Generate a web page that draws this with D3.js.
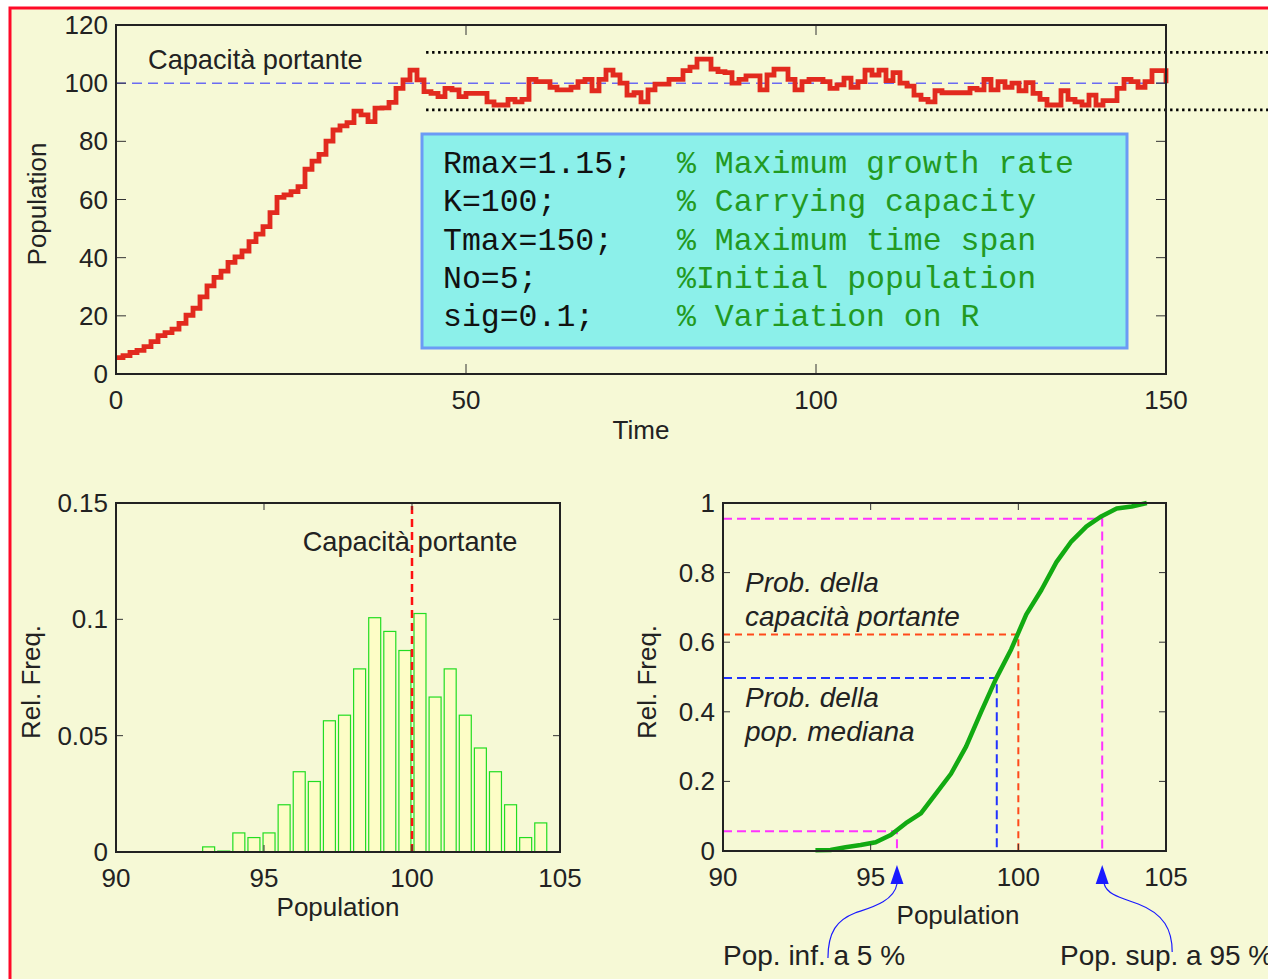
<!DOCTYPE html>
<html><head><meta charset="utf-8">
<script src="https://cdn.jsdelivr.net/npm/d3@7"></script>
<style>
body{margin:0;background:#fff;}
svg{display:block;}
text{font-family:"Liberation Sans",Arial,sans-serif;fill:#222;}
</style></head><body>
<svg id="c" width="1268" height="979"></svg>
<script>
// ---------- DATA ----------
// Population time series (t = 0..150, one value per time step)
const population = [
 5.6,6.3,7.4,8.1,9.4,11.1,13.2,14.2,15.4,17.4,
 20.2,22.6,26.5,30.3,33.2,35.4,38.4,40.3,42.3,45.5,
 48.1,50.7,55.5,60.7,61.6,62.7,64.4,70.4,73.2,75.5,
 80.1,83.9,85.3,86.4,90.4,89.1,86.8,91.4,91.5,93.4,
 98.2,101.1,104.5,101.1,97.1,96.5,95.4,98.2,97.7,95.4,
 96.5,96.5,96.5,93.6,92.5,92.5,94.4,93.6,94.4,101.3,
 100.5,100.5,98.6,97.7,97.7,98.6,100.5,101.3,97.4,101.3,
 104.5,102.8,100.0,95.9,96.7,93.6,97.7,99.7,99.7,101.3,
 101.3,104.3,105.5,108.3,108.3,104.8,104.0,103.6,100.0,101.3,
 102.5,102.5,97.7,102.8,104.8,104.8,101.3,97.7,100.5,101.3,
 101.3,100.5,98.2,99.4,101.7,98.6,100.5,104.5,102.8,104.5,
 100.9,103.6,100.0,99.0,95.9,94.4,93.6,97.4,96.7,96.7,
 96.7,96.7,98.2,97.7,101.3,97.7,100.5,98.6,100.0,97.4,
 100.2,96.5,94.4,92.5,92.5,97.4,94.4,93.6,92.5,95.9,
 92.5,94.0,94.0,98.2,101.3,100.5,98.6,100.5,104.3,104.3,
 100.0];
const carryingCapacity = 100;
const bandUpper = 110.6, bandLower = 90.8;
const bandStart = 44.3, bandEnd = 164.6;
const timeTicks = [0,50,100,150];
const popTicks = [0,20,40,60,80,100,120];

// Histogram of population (relative frequency)
const binCenters = [93.13,93.64,94.15,94.66,95.17,95.68,96.19,96.70,97.21,97.72,98.23,98.74,
                    99.25,99.76,100.27,100.78,101.29,101.80,102.31,102.82,103.33,103.84,104.35];
const relFreq = [0.0022,0.0004,0.0082,0.0062,0.0082,0.0203,0.0345,0.0303,0.0564,0.0588,0.0787,0.1007,
                 0.0948,0.0866,0.1025,0.0666,0.0787,0.0588,0.0447,0.0345,0.0203,0.0062,0.0125];
const histXTicks = [90,95,100,105];
const histYTicks = [0,0.05,0.1,0.15];
const histYLabels = ["0","0.05","0.1","0.15"];

// Cumulative distribution
const cdfValues = [0.002,0.003,0.011,0.017,0.025,0.046,0.080,0.108,0.165,0.222,0.300,0.400,
                   0.496,0.580,0.680,0.750,0.830,0.890,0.933,0.962,0.984,0.990,1.000];
const cdfYTicks = [0,0.2,0.4,0.6,0.8,1];
const cdfYLabels = ["0","0.2","0.4","0.6","0.8","1"];
const pop5 = 95.89, prob5 = 0.057;
const pop95 = 102.84, prob95 = 0.955;
const popMedian = 99.27, probMedian = 0.497;
const probK = 0.622;

const infoLines = [
 ["Rmax=1.15;", "% Maximum growth rate"],
 ["K=100;", "% Carrying capacity"],
 ["Tmax=150;", "% Maximum time span"],
 ["No=5;", "%Initial population"],
 ["sig=0.1;", "% Variation on R"]];

// ---------- DRAW ----------
const svg = d3.select("#c");
const BG = "#f6f9d6";
svg.append("rect").attr("x",10).attr("y",8).attr("width",1300).attr("height",1000)
  .attr("fill",BG).attr("stroke","#ff0a28").attr("stroke-width",3);

const FS = 26;
function frame(g, x, y, xt, yt, ylabels, tick){
  const [x0,x1] = x.range(), [y0,y1] = y.range();
  xt.forEach(v=>{
    g.append("line").attr("x1",x(v)).attr("x2",x(v)).attr("y1",y0).attr("y2",y0-tick).attr("stroke","#333");
    g.append("line").attr("x1",x(v)).attr("x2",x(v)).attr("y1",y1).attr("y2",y1+tick).attr("stroke","#333");
    g.append("text").attr("x",x(v)).attr("y",y0+35).attr("text-anchor","middle").attr("font-size",FS).text(v);
  });
  yt.forEach((v,i)=>{
    g.append("line").attr("x1",x0).attr("x2",x0+tick).attr("y1",y(v)).attr("y2",y(v)).attr("stroke","#333");
    g.append("line").attr("x1",x1).attr("x2",x1-tick).attr("y1",y(v)).attr("y2",y(v)).attr("stroke","#333");
    g.append("text").attr("x",x0-8).attr("y",y(v)+9).attr("text-anchor","end").attr("font-size",FS)
      .text(ylabels? ylabels[i] : v);
  });
  g.append("rect").attr("x",x0).attr("y",y1).attr("width",x1-x0).attr("height",y0-y1)
    .attr("fill","none").attr("stroke","#222").attr("stroke-width",2);
}

// ===== Top chart =====
const xT = d3.scaleLinear([0,150],[116,1166]);
const yT = d3.scaleLinear([0,120],[374,25]);
const gT = svg.append("g");
[bandUpper,bandLower].forEach(v=>{
  gT.append("line").attr("x1",xT(bandStart)).attr("x2",xT(bandEnd)).attr("y1",yT(v)).attr("y2",yT(v))
    .attr("stroke","#000").attr("stroke-width",2.6).attr("stroke-dasharray","2.4,3.6");
});
gT.append("line").attr("x1",xT(0)).attr("x2",xT(150)).attr("y1",yT(carryingCapacity)).attr("y2",yT(carryingCapacity))
  .attr("stroke","#6b6cf2").attr("stroke-width",1.5).attr("stroke-dasharray","10,6");
const line = d3.line().x((d,i)=>xT(i)).y(d=>yT(d)).curve(d3.curveStepAfter);
gT.append("path").attr("d",line(population)).attr("fill","none").attr("stroke","#e22a1e")
  .attr("stroke-width",4.8).attr("stroke-linejoin","miter");
frame(gT,xT,yT,timeTicks,popTicks,null,10);
gT.append("text").attr("x",148).attr("y",69).attr("font-size",27.2).text("Capacità portante");
gT.append("text").attr("x",641).attr("y",439).attr("text-anchor","middle").attr("font-size",FS).text("Time");
gT.append("text").attr("transform","translate(46,204) rotate(-90)").attr("text-anchor","middle").attr("font-size",FS).text("Population");
gT.append("rect").attr("x",422).attr("y",134).attr("width",705).attr("height",214)
  .attr("fill","#8cf0ea").attr("stroke","#6b9bf5").attr("stroke-width",3);
infoLines.forEach((l,i)=>{
  const yy = 173 + i*38.3;
  gT.append("text").attr("x",443).attr("y",yy).attr("font-size",31.5)
    .style("font-family","'Courier New','Liberation Mono',monospace").style("fill","#111").text(l[0]);
  gT.append("text").attr("x",677).attr("y",yy).attr("font-size",31.5)
    .style("font-family","'Courier New','Liberation Mono',monospace").style("fill","#229a22")
    .attr("xml:space","preserve").style("white-space","pre").text(l[1]);
});

// ===== Histogram =====
const xH = d3.scaleLinear([90,105],[116,560]);
const yH = d3.scaleLinear([0,0.15],[852,503]);
const gH = svg.append("g");
const bw = xH(90.405)-xH(90);
gH.selectAll("rect.bar").data(binCenters).enter().append("rect").attr("class","bar")
  .attr("x",d=>xH(d)-bw/2).attr("width",bw)
  .attr("y",(d,i)=>yH(relFreq[i])).attr("height",(d,i)=>yH(0)-yH(relFreq[i]))
  .attr("fill","#fdfdc6").attr("stroke","#22dd22").attr("stroke-width",1.2);
gH.append("line").attr("x1",xH(carryingCapacity)).attr("x2",xH(carryingCapacity)).attr("y1",yH(0)).attr("y2",yH(0.15))
  .attr("stroke","#ff1010").attr("stroke-width",2.5).attr("stroke-dasharray","8,5");
frame(gH,xH,yH,histXTicks,histYTicks,histYLabels,7);
gH.append("text").attr("x",410).attr("y",551).attr("text-anchor","middle").attr("font-size",27.2).text("Capacità portante");
gH.append("text").attr("x",338).attr("y",916).attr("text-anchor","middle").attr("font-size",FS).text("Population");
gH.append("text").attr("transform","translate(40,682) rotate(-90)").attr("text-anchor","middle").attr("font-size",FS).text("Rel. Freq.");

// ===== CDF =====
const xC = d3.scaleLinear([90,105],[723,1166]);
const yC = d3.scaleLinear([0,1],[851,503]);
const gC = svg.append("g");
function refLine(px,py,color,dash){
  gC.append("path").attr("d",`M${xC(90)},${yC(py)}H${xC(px)}V${yC(0)}`).attr("fill","none")
    .attr("stroke",color).attr("stroke-width",2).attr("stroke-dasharray",dash);
}
refLine(pop95,prob95,"#ff33ff","9,5");
refLine(pop5,prob5,"#ff33ff","9,5");
refLine(carryingCapacity,probK,"#ff4a1a","7,5");
refLine(popMedian,probMedian,"#2233ff","9,5");
const cdfLine = d3.line().x((d,i)=>xC(binCenters[i])).y(d=>yC(d));
gC.append("path").attr("d",cdfLine(cdfValues)).attr("fill","none").attr("stroke","#12aa12").attr("stroke-width",4.5)
  .attr("stroke-linejoin","round");
frame(gC,xC,yC,histXTicks,cdfYTicks,cdfYLabels,7);
gC.append("text").attr("x",958).attr("y",924).attr("text-anchor","middle").attr("font-size",FS).text("Population");
gC.append("text").attr("transform","translate(656,682) rotate(-90)").attr("text-anchor","middle").attr("font-size",FS).text("Rel. Freq.");
const it = [["Prob. della",592],["capacità portante",626],["Prob. della",707],["pop. mediana",741]];
it.forEach(d=>gC.append("text").attr("x",745).attr("y",d[1]).attr("font-size",28).attr("font-style","italic").text(d[0]));

const AC = "#1a1aff";
function arrow(px){
  const x = xC(px);
  gC.append("path").attr("d",`M${x},865L${x-6.5},884L${x+6.5},884Z`).attr("fill",AC);
}
arrow(pop5); arrow(pop95);
const a1 = xC(pop5), a2 = xC(pop95);
gC.append("path").attr("d",`M${a1},884 C${a1-3},902 ${a1-28},908 ${a1-42},913 C${a1-60},920 ${a1-69},932 ${a1-69},958`)
  .attr("fill","none").attr("stroke",AC).attr("stroke-width",1.2);
gC.append("path").attr("d",`M${a2+2},884 C${a2+5},895 ${a2+20},898 ${a2+36},904 C${a2+62},914 ${a2+70},930 ${a2+70},952`)
  .attr("fill","none").attr("stroke",AC).attr("stroke-width",1.2);
gC.append("text").attr("x",723).attr("y",965).attr("font-size",28).text("Pop. inf. a 5 %");
gC.append("text").attr("x",1060).attr("y",965).attr("font-size",28).text("Pop. sup. a 95 %");
</script>
</body></html>
